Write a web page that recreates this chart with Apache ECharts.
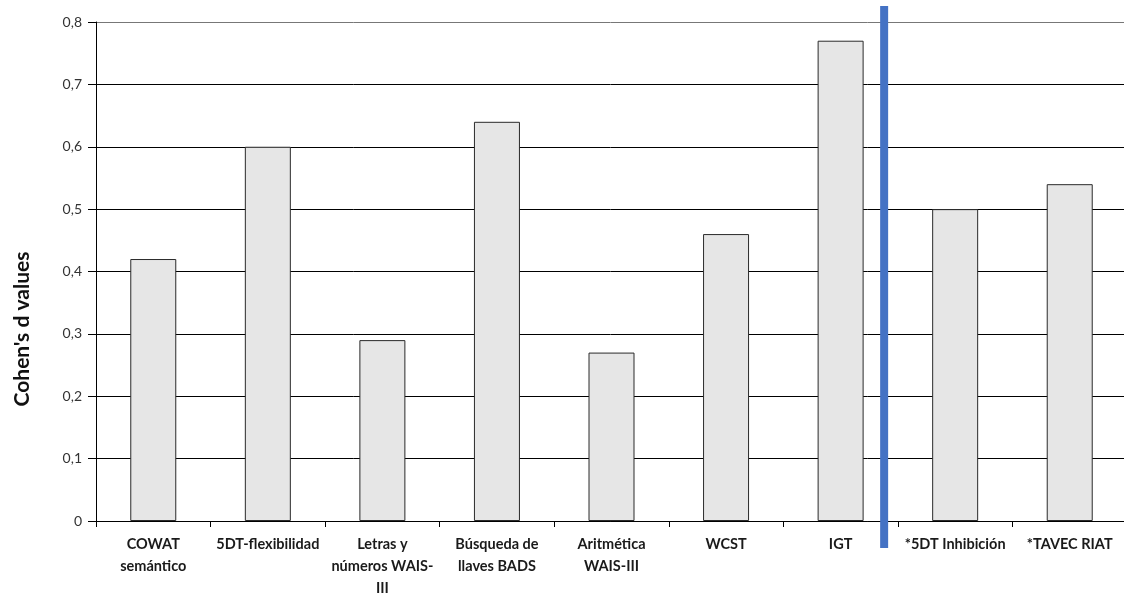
<!DOCTYPE html>
<html>
<head>
<meta charset="utf-8">
<script src="https://cdn.jsdelivr.net/npm/echarts@6/dist/echarts.min.js"></script>
<style>
html, body { margin: 0; padding: 0; background: #fff; }
#main { width: 1124px; height: 594px; }
</style>
</head>
<body>
<div id="main"></div>
<script>
// datos
var categories = ['COWAT\nsemántico', '5DT-flexibilidad', 'Letras y\nnúmeros WAIS-\nIII', 'Búsqueda de\nllaves BADS',
    'Aritmética\nWAIS-III', 'WCST', 'IGT', '*5DT Inhibición', '*TAVEC RIAT'];
var values = [0.42, 0.60, 0.29, 0.64, 0.27, 0.46, 0.77, 0.50, 0.54];
var yTitle = "Cohen's d values";

var chart = echarts.init(document.getElementById('main'));

var option = {
    animation: false,
    textStyle: { fontFamily: 'Lato' },
    grid: {
        left: 96,
        top: 22,
        width: 1031,
        bottom: 73,
        containLabel: false,
        outerBoundsMode: 'none'
    },
    xAxis: {
        type: 'category',
        data: categories,
        axisLine: { show: true, lineStyle: { color: '#000', width: 1 } },
        axisTick: { show: true, length: 6, lineStyle: { color: '#000' } },
        axisLabel: {
            interval: 0,
            margin: 12,
            color: '#1a1a1a',
            fontWeight: 'bold',
            fontSize: 14.5,
            lineHeight: 22,
            fontFamily: 'Lato'
        }
    },
    yAxis: {
        type: 'value',
        min: 0,
        max: 0.8,
        interval: 0.1,
        axisLine: { show: true, lineStyle: { color: '#000' } },
        axisTick: { show: true, length: 8, lineStyle: { color: '#000' } },
        axisLabel: {
            margin: 14,
            fontSize: 14,
            color: '#333',
            formatter: function (v) {
                return v === 0 ? '0' : v.toFixed(1).replace('.', ',');
            }
        },
        splitLine: {
            show: true,
            // la línea superior es gris, las demás negras
            lineStyle: { color: ['#000', '#000', '#000', '#000', '#000', '#000', '#000', '#000', '#777'], width: 1 }
        }
    },
    series: [{
        type: 'bar',
        data: values,
        barWidth: 46,
        itemStyle: {
            color: '#e6e6e6',
            borderColor: '#2a2a2a',
            borderWidth: 1
        },
        z: 3
    }]
};
chart.setOption(option);

// separador azul entre IGT y las pruebas con *
var pIgt = chart.convertToPixel({ xAxisIndex: 0 }, categories[6]);
var pInh = chart.convertToPixel({ xAxisIndex: 0 }, categories[7]);
var sepX = pIgt + (pInh - pIgt) * 0.38;
chart.setOption({
    graphic: [{
        type: 'rect',
        shape: { x: sepX - 4, y: 6, width: 8, height: 542 },
        style: { fill: '#4472c4' },
        z: 100
    }, {
        type: 'text',
        x: 22,
        y: 329,
        rotation: Math.PI / 2,
        style: {
            text: yTitle,
            fontSize: 21,
            fontWeight: 'bold',
            fontFamily: 'Lato',
            fill: '#111',
            align: 'center',
            verticalAlign: 'middle'
        }
    }]
});
</script>
</body>
</html>
